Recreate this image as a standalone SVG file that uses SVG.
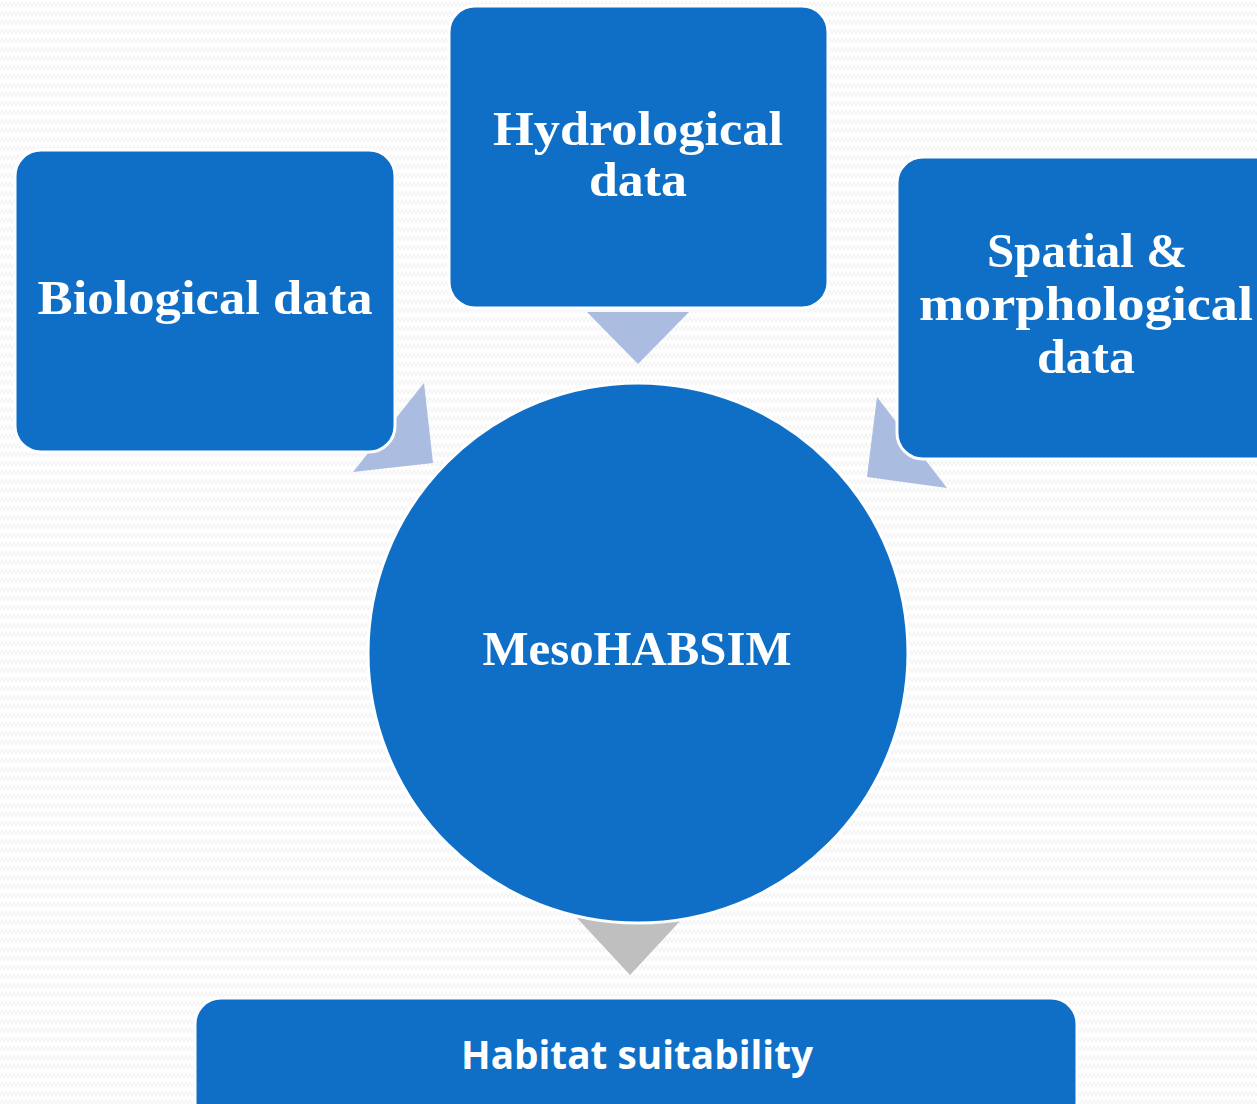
<svg xmlns="http://www.w3.org/2000/svg" width="1257" height="1104" viewBox="0 0 1257 1104">
<defs>
<pattern id="zig" width="8" height="9" patternUnits="userSpaceOnUse">
<polyline points="0,7 2,2 4,7 6,2 8,7" fill="none" stroke="#F3F3F3" stroke-width="1.2"/>
</pattern>
<style>
.node{fill:#0F6FC6;stroke:#FFFFFF;stroke-width:3}
.arr{fill:#AABCE0}
.arrg{fill:#BFBFBF}
.t{font-family:"Liberation Serif","Times New Roman",serif;font-weight:bold;font-size:48px;fill:#FFFFFF;text-anchor:middle}
.s{font-family:"Open Sans","Liberation Sans",sans-serif;font-weight:bold;font-size:39px;fill:#FFFFFF;text-anchor:middle}
</style>
</defs>
<rect x="0" y="0" width="1257" height="1104" fill="#FFFFFF"/>
<rect x="0" y="0" width="1257" height="1104" fill="url(#zig)"/>
<g id="connectors">
<polygon class="arr" points="587,312 689,312 638,364"/>
<polygon class="arr" points="353,472 424,383 433,463"/>
<polygon class="arr" points="877,397 947,488 867,477"/>
<polygon class="arrg" points="577,918 683,918 630,975"/>
</g>
<g id="biological">
<rect class="node" x="15" y="150" width="380" height="302" rx="26"/>
<text class="t" x="205" y="314" textLength="335" lengthAdjust="spacingAndGlyphs">Biological data</text>
</g>
<g id="hydrological">
<rect class="node" x="449" y="6" width="379" height="302" rx="26"/>
<text class="t" x="638" y="145" textLength="290" lengthAdjust="spacingAndGlyphs">Hydrological</text>
<text class="t" x="638" y="196" textLength="98" lengthAdjust="spacingAndGlyphs">data</text>
</g>
<g id="spatial">
<rect class="node" x="897" y="157" width="400" height="302" rx="26"/>
<text class="t" x="1087" y="267" textLength="200" lengthAdjust="spacingAndGlyphs">Spatial &amp;</text>
<text class="t" x="1086" y="320" textLength="334" lengthAdjust="spacingAndGlyphs">morphological</text>
<text class="t" x="1086" y="373" textLength="98" lengthAdjust="spacingAndGlyphs">data</text>
</g>
<g id="mesohabsim">
<circle class="node" cx="638" cy="653" r="270"/>
<text class="t" x="637" y="665" textLength="309" lengthAdjust="spacingAndGlyphs">MesoHABSIM</text>
</g>
<g id="habitat">
<rect class="node" x="195" y="998" width="882" height="130" rx="26"/>
<text class="s" x="637" y="1069" textLength="352" lengthAdjust="spacingAndGlyphs">Habitat suitability</text>
</g>
</svg>
